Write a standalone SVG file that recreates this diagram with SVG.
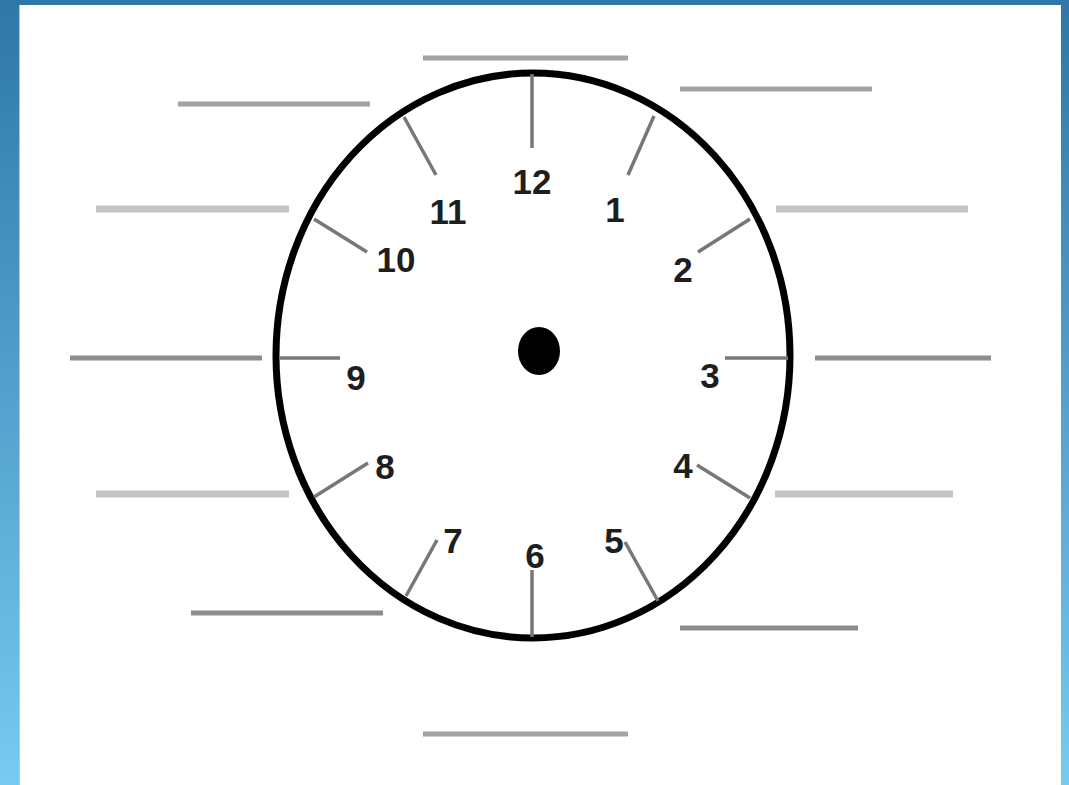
<svg xmlns="http://www.w3.org/2000/svg" width="1069" height="785" viewBox="0 0 1069 785">
<defs>
<linearGradient id="bg" x1="0" y1="0" x2="0" y2="1">
<stop offset="0" stop-color="#2e77a8"/>
<stop offset="1" stop-color="#77caf0"/>
</linearGradient>
<style>
.blank{stroke-width:5;fill:none}
.dark{stroke:#a3a3a3}
.mid{stroke:#8d8d8d}
.light{stroke:#c4c4c4;stroke-width:7}
.tick{stroke:#777;stroke-width:3.5;fill:none}
.num{font-family:"Liberation Sans",Arial,sans-serif;font-weight:bold;font-size:35px;fill:#1e1e1e;text-anchor:middle}
</style>
</defs>
<rect x="0" y="0" width="1069" height="785" fill="url(#bg)"/>
<rect x="19" y="5" width="1" height="780" fill="#9ad3ee"/>
<rect x="20" y="5" width="1041" height="780" fill="#ffffff"/>
<g id="answer-lines">
<line class="blank dark" x1="423" y1="58" x2="628" y2="58"/>
<line class="blank dark" x1="178" y1="104" x2="370" y2="104"/>
<line class="blank dark" x1="680" y1="89" x2="872" y2="89"/>
<line class="blank light" x1="96" y1="209" x2="289" y2="209"/>
<line class="blank light" x1="776" y1="209" x2="968" y2="209"/>
<line class="blank mid" x1="70" y1="358" x2="262" y2="358"/>
<line class="blank mid" x1="815" y1="358" x2="991" y2="358"/>
<line class="blank light" x1="96" y1="494" x2="289" y2="494"/>
<line class="blank light" x1="775" y1="494" x2="953" y2="494"/>
<line class="blank mid" x1="191" y1="613" x2="383" y2="613"/>
<line class="blank mid" x1="680" y1="628" x2="858" y2="628"/>
<line class="blank dark" x1="423" y1="734" x2="628" y2="734"/>
</g>
<g id="clock-face">
<ellipse cx="533" cy="355.5" rx="257" ry="282.5" fill="none" stroke="#000" stroke-width="7"/>
<ellipse cx="539" cy="351" rx="21" ry="24" fill="#000"/>
</g>
<g id="ticks">
<line class="tick" x1="532" y1="74" x2="532" y2="148"/>
<line class="tick" x1="654" y1="116" x2="628" y2="175"/>
<line class="tick" x1="750" y1="219" x2="698" y2="252"/>
<line class="tick" x1="725" y1="358" x2="788" y2="358"/>
<line class="tick" x1="697" y1="465" x2="750" y2="498"/>
<line class="tick" x1="625" y1="542" x2="658" y2="601"/>
<line class="tick" x1="532" y1="570" x2="532" y2="637"/>
<line class="tick" x1="437" y1="540" x2="406" y2="596"/>
<line class="tick" x1="368" y1="463" x2="314" y2="497"/>
<line class="tick" x1="279" y1="358" x2="340" y2="358"/>
<line class="tick" x1="314" y1="219" x2="367" y2="252"/>
<line class="tick" x1="404" y1="117" x2="436" y2="175"/>
</g>
<g id="numbers">
<text class="num" x="532" y="194">12</text>
<text class="num" x="615" y="222">1</text>
<text class="num" x="683" y="282">2</text>
<text class="num" x="710" y="388">3</text>
<text class="num" x="683" y="478">4</text>
<text class="num" x="614" y="553">5</text>
<text class="num" x="535" y="568">6</text>
<text class="num" x="453" y="553">7</text>
<text class="num" x="385" y="479">8</text>
<text class="num" x="356" y="390">9</text>
<text class="num" x="396" y="272">10</text>
<text class="num" x="448" y="224">11</text>
</g>
</svg>
